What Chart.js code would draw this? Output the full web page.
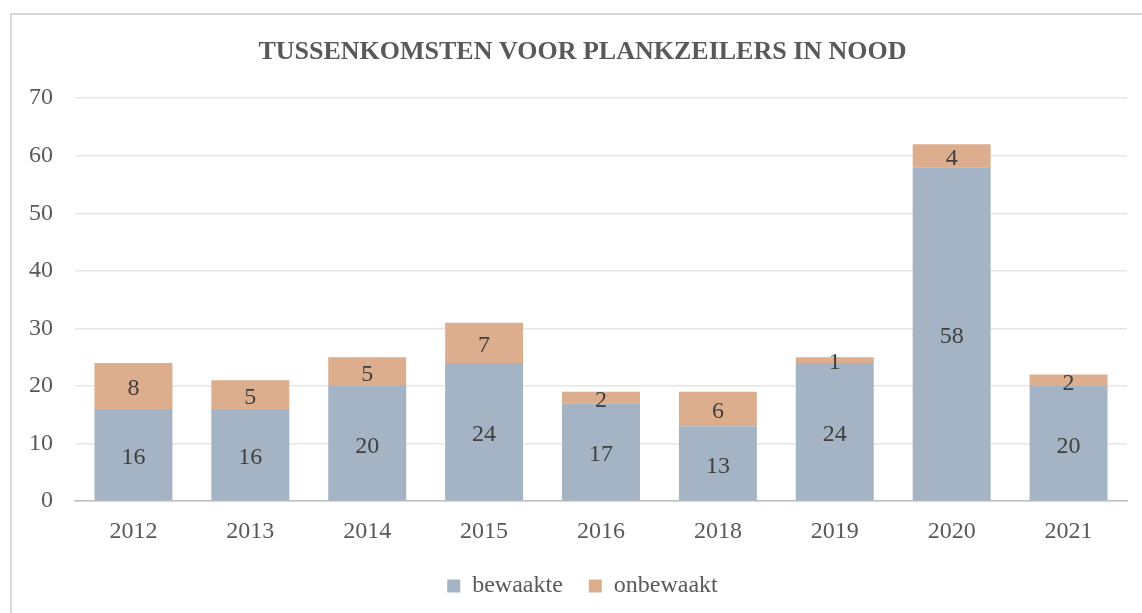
<!DOCTYPE html>
<html>
<head>
<meta charset="utf-8">
<script src="https://cdn.jsdelivr.net/npm/chart.js@4.4.1/dist/chart.umd.min.js"></script>
<style>
  html, body { margin: 0; padding: 0; background: #fff; overflow: hidden; }
  #frame { position: absolute; left: 10px; top: 13px; width: 1160px; height: 640px;
           border: 2px solid #d9d9d9; box-sizing: border-box; }
  #wrap { position: absolute; left: 0; top: 0; width: 1142px; height: 613px; }
</style>
</head>
<body>
<div id="frame"></div>
<div id="wrap"><canvas id="chart" width="1142" height="613"></canvas></div>
<script>
// jaren en aantallen
const years = ['2012', '2013', '2014', '2015', '2016', '2018', '2019', '2020', '2021'];
const bewaakte = [16, 16, 20, 24, 17, 13, 24, 58, 20];
const onbewaakt = [8, 5, 5, 7, 2, 6, 1, 4, 2];
const yTicks = [0, 10, 20, 30, 40, 50, 60, 70];

const FONT = "'Liberation Serif', 'DejaVu Serif', serif";

// waarden midden in elk segment tekenen
const segmentLabels = {
    id: 'segmentLabels',
    beforeDraw(chart) {
        // y-labels mogen buiten de smalle as-box vallen
        chart.scales.y._computeLabelArea = () => undefined;
    },
    afterDatasetsDraw(chart) {
        const ctx = chart.ctx;
        ctx.save();
        ctx.font = '24px ' + FONT;
        ctx.fillStyle = '#404040';
        ctx.textAlign = 'center';
        ctx.textBaseline = 'middle';
        chart.data.datasets.forEach((ds, di) => {
            const meta = chart.getDatasetMeta(di);
            meta.data.forEach((bar, i) => {
                const v = ds.data[i];
                if (!v) return;
                const mid = (bar.y + bar.base) / 2;
                ctx.fillText(String(v), bar.x, mid + 3);
            });
        });
        ctx.restore();
    }
};

new Chart(document.getElementById('chart').getContext('2d'), {
    type: 'bar',
    data: {
        labels: years,
        datasets: [
            { label: 'bewaakte', data: bewaakte, backgroundColor: '#a4b4c4' },
            { label: 'onbewaakt', data: onbewaakt, backgroundColor: '#dcae8d' },
        ]
    },
    options: {
        responsive: false,
        animation: false,
        layout: { padding: { left: 38, right: 15, top: 0, bottom: 5 } },
        datasets: { bar: { categoryPercentage: 1, barPercentage: 0.667 } },
        scales: {
            x: {
                stacked: true,
                afterFit(scale) { scale.height -= 14; },
                grid: { display: false, drawTicks: false },
                border: { color: '#c0c0c0', width: 1.5 },
                ticks: { color: '#595959', font: { family: FONT, size: 24 }, padding: 16 }
            },
            y: {
                stacked: true,
                min: 0,
                max: 70,
                afterFit(scale) { scale.width = 37; },
                afterBuildTicks(scale) { scale.ticks = yTicks.map(v => ({ value: v })); },
                grid: { color: '#e6e6e6', lineWidth: 1.5, drawTicks: false },
                border: { display: false },
                ticks: { color: '#595959', font: { family: FONT, size: 24 }, padding: 22 }
            }
        },
        plugins: {
            title: {
                display: true,
                text: 'TUSSENKOMSTEN VOOR PLANKZEILERS IN NOOD',
                color: '#595959',
                font: { family: FONT, size: 26, weight: 'bold' },
                padding: { top: 37, bottom: 30 }
            },
            legend: {
                position: 'bottom',
                labels: {
                    color: '#595959',
                    font: { family: FONT, size: 24 },
                    boxWidth: 13,
                    boxHeight: 13,
                    padding: 26
                }
            },
            tooltip: { enabled: false }
        }
    },
    plugins: [segmentLabels]
});
</script>
</body>
</html>
